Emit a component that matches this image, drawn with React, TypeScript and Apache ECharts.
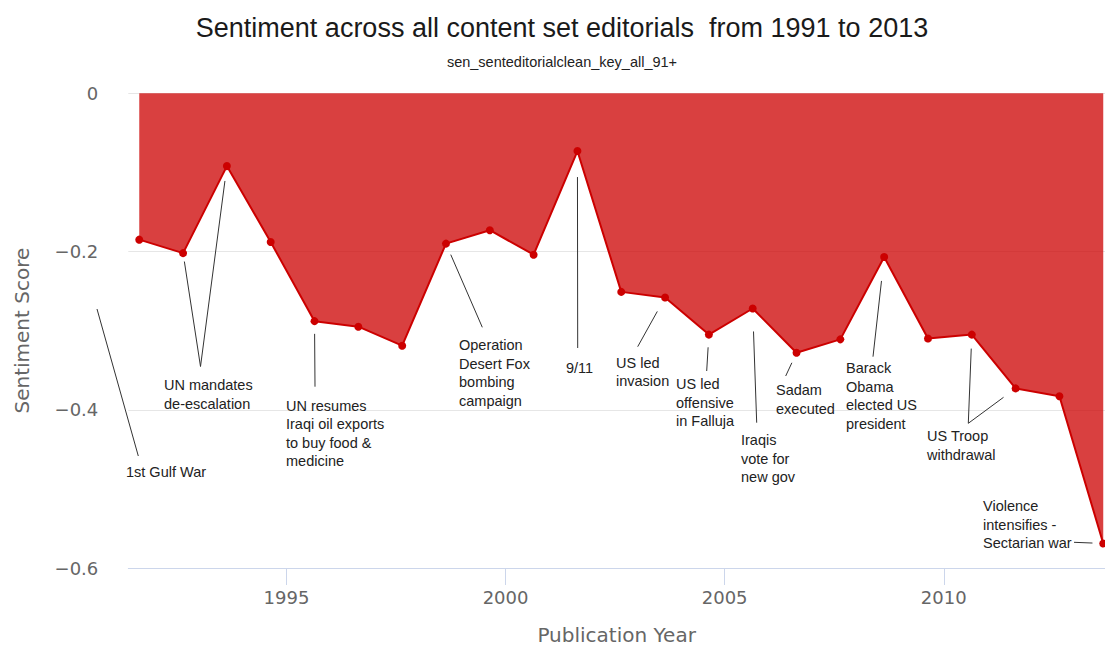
import React, { useEffect, useRef } from "react";
import * as echarts from "echarts";

const years = [1991, 1992, 1993, 1994, 1995, 1996, 1997, 1998, 1999, 2000, 2001, 2002, 2003, 2004, 2005, 2006, 2007, 2008, 2009, 2010, 2011, 2012, 2013];
const scores = [-0.185, -0.202, -0.092, -0.188, -0.288, -0.295, -0.319, -0.19, -0.173, -0.204, -0.073, -0.251, -0.258, -0.305, -0.272, -0.328, -0.311, -0.207, -0.31, -0.305, -0.373, -0.383, -0.569];
const yearTicks = [1995, 2000, 2005, 2010];
const POINT_OFFSET = 0.64; // points sit late in each publication year

const TITLE = "Sentiment across all content set editorials  from 1991 to 2013";
const SUBTITLE = "sen_senteditorialclean_key_all_91+";

type Target = { index: number; gap: number } | [number, number];
type Note = { text: string; left: number; firstCenter: number; lines: { from: [number, number]; to: Target }[] };

const notes: Note[] = [
  { text: "1st Gulf War", left: 126, firstCenter: 472, lines: [{ from: [138.3, 456], to: [97, 309] }] },
  { text: "UN mandates\nde-escalation", left: 164, firstCenter: 385, lines: [
    { from: [200.5, 366.5], to: { index: 1, gap: 8.5 } },
    { from: [200.5, 366.5], to: { index: 2, gap: 15 } },
  ] },
  { text: "UN resumes\nIraqi oil exports\nto buy food &\nmedicine", left: 286, firstCenter: 405.7, lines: [{ from: [315, 386.7], to: { index: 4, gap: 12.7 } }] },
  { text: "Operation\nDesert Fox\nbombing\ncampaign", left: 459, firstCenter: 345, lines: [{ from: [482.3, 327.3], to: { index: 7, gap: 12 } }] },
  { text: "9/11", left: 566, firstCenter: 367.7, lines: [{ from: [577.7, 348], to: { index: 10, gap: 26 } }] },
  { text: "US led\ninvasion", left: 616, firstCenter: 362.7, lines: [{ from: [637.7, 346.7], to: { index: 12, gap: 16 } }] },
  { text: "US led\noffensive\nin Falluja", left: 676, firstCenter: 384, lines: [{ from: [706.7, 371], to: { index: 13, gap: 12.7 } }] },
  { text: "Iraqis\nvote for\nnew gov", left: 741, firstCenter: 440, lines: [{ from: [756.7, 422.7], to: { index: 14, gap: 23 } }] },
  { text: "Sadam\nexecuted", left: 776, firstCenter: 390, lines: [{ from: [785.7, 376], to: { index: 15, gap: 11 } }] },
  { text: "Barack\nObama\nelected US\npresident", left: 846, firstCenter: 368.3, lines: [{ from: [873, 356.7], to: { index: 17, gap: 24 } }] },
  { text: "US Troop\nwithdrawal", left: 927, firstCenter: 436, lines: [
    { from: [968.3, 423.3], to: { index: 19, gap: 14 } },
    { from: [968.3, 423.3], to: { index: 20, gap: 15 } },
  ] },
  { text: "Violence\nintensifies -\nSectarian war", left: 983, firstCenter: 506, lines: [{ from: [1074, 542.3], to: { index: 22, gap: 10.8 } }] },
];

const AXIS_FONT = "'DejaVu Sans', Verdana, sans-serif";
const TEXT_FONT = "'Liberation Sans', Arial, sans-serif";
const LINE_H = 18.5;

export default function App() {
  const ref = useRef<HTMLDivElement>(null);
  useEffect(() => {
    if (!ref.current) return;
    const chart = echarts.init(ref.current, undefined, { renderer: "svg" });
    const data = years.map((y, i) => [y + POINT_OFFSET, scores[i]]);
    chart.setOption({
      animation: false,
      backgroundColor: "#fff",
      title: [
        { text: TITLE, left: 557, textAlign: "center", top: 9, textStyle: { fontFamily: TEXT_FONT, fontSize: 27, fontWeight: "normal", color: "#1a1a1a" } },
        { text: SUBTITLE, left: 557, textAlign: "center", top: 49, textStyle: { fontFamily: TEXT_FONT, fontSize: 14.5, fontWeight: "normal", color: "#222" } },
      ],
      grid: { left: 128.3, right: 0, top: 93.3, bottom: 79, containLabel: false },
      xAxis: {
        type: "value",
        min: 1991.39,
        max: 2013.68,
        name: "Publication Year",
        nameLocation: "middle",
        nameGap: 57,
        nameTextStyle: { fontFamily: AXIS_FONT, fontSize: 20, color: "#666" },
        axisLine: { show: true, onZero: false, lineStyle: { color: "#ccd6eb", width: 1 } },
        axisTick: { show: true, customValues: yearTicks, length: 17, lineStyle: { color: "#ccd6eb" } },
        axisLabel: { customValues: yearTicks, margin: 20, fontFamily: AXIS_FONT, fontSize: 18, color: "#666", formatter: (v: number) => String(v) },
        splitLine: { show: false },
      },
      yAxis: {
        type: "value",
        min: -0.6,
        max: 0,
        interval: 0.2,
        name: "Sentiment Score",
        nameLocation: "middle",
        nameGap: 96,
        nameTextStyle: { fontFamily: AXIS_FONT, fontSize: 20, color: "#666" },
        axisLine: { show: false },
        axisTick: { show: false },
        axisLabel: {
          margin: 30,
          fontFamily: AXIS_FONT,
          fontSize: 18,
          color: "#666",
          formatter: (v: number) => (Math.abs(v) < 1e-9 ? "0" : (v < 0 ? "\u2212" : "") + Math.abs(v).toFixed(1)),
        },
        splitLine: { show: true, lineStyle: { color: "#e6e6e6", width: 1 } },
      },
      series: [
        {
          type: "line",
          data,
          symbol: "circle",
          symbolSize: 8,
          itemStyle: { color: "#cc0000" },
          lineStyle: { color: "#cc0000", width: 2 },
          areaStyle: { color: "#cc0000", opacity: 0.75, origin: "end" },
          clip: false,
          z: 2,
        },
      ],
    });

    const graphics: any[] = [];
    notes.forEach((n) => {
      graphics.push({
        type: "text",
        z: 10,
        style: {
          text: n.text,
          x: n.left,
          y: n.firstCenter - LINE_H / 2,
          fontFamily: TEXT_FONT,
          fontSize: 14.5,
          lineHeight: LINE_H,
          fill: "#222",
          verticalAlign: "top",
          align: "left",
        },
      });
      n.lines.forEach((l) => {
        let end: number[];
        if (Array.isArray(l.to)) {
          end = l.to;
        } else {
          const p = chart.convertToPixel({ gridIndex: 0 }, data[l.to.index]) as number[];
          const dx = l.from[0] - p[0];
          const dy = l.from[1] - p[1];
          const len = Math.sqrt(dx * dx + dy * dy) || 1;
          end = [p[0] + (dx / len) * l.to.gap, p[1] + (dy / len) * l.to.gap];
        }
        graphics.push({
          type: "line",
          z: 10,
          shape: { x1: l.from[0], y1: l.from[1], x2: end[0], y2: end[1] },
          style: { stroke: "#333", lineWidth: 1 },
        });
      });
    });
    chart.setOption({ graphic: graphics });

    return () => chart.dispose();
  }, []);
  return <div ref={ref} style={{ position: "absolute", left: 0, top: 0, width: 1105, height: 650 }} />;
}
